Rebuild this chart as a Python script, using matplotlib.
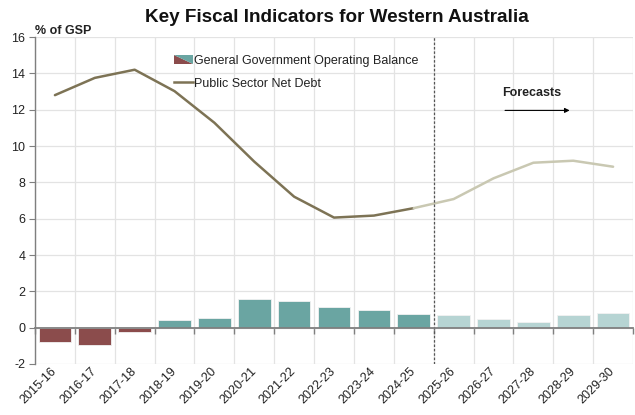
import matplotlib
matplotlib.use("Agg")
import matplotlib.pyplot as plt
from matplotlib.patches import Polygon
from matplotlib.lines import Line2D
from matplotlib.legend_handler import HandlerBase
import numpy as np

plt.rcParams['font.family'] = ['Liberation Sans', 'DejaVu Sans']
plt.rcParams['axes.unicode_minus'] = False

years = ["2015-16", "2016-17", "2017-18", "2018-19", "2019-20", "2020-21",
         "2021-22", "2022-23", "2023-24", "2024-25", "2025-26", "2026-27",
         "2027-28", "2028-29", "2029-30"]
operating_balance = [-0.81, -0.95, -0.22, 0.44, 0.51, 1.56, 1.48, 1.13,
                     0.99, 0.77, 0.71, 0.48, 0.33, 0.71, 0.81]
net_debt = [12.8, 13.75, 14.2, 13.02, 11.28, 9.14, 7.21, 6.06, 6.17, 6.58,
            7.08, 8.22, 9.08, 9.19, 8.86]
n_actual = 10  # 2015-16 to 2024-25 are actuals, the rest are forecasts

C_NEG = "#8b4c4c"
C_POS = "#6aa5a2"
C_FCST = "#b6d4d3"
C_DEBT = "#7d7355"
C_DEBT_FCST = "#c9c8b2"
C_GRID = "#e3e3e3"

x = np.arange(len(years))
bar_colors = []
for i, v in enumerate(operating_balance):
    if i >= n_actual:
        bar_colors.append(C_FCST)
    elif v < 0:
        bar_colors.append(C_NEG)
    else:
        bar_colors.append(C_POS)

fig = plt.figure(figsize=(6.35, 4.15), dpi=100)
ax = fig.add_axes([0.0551, 0.1229, 0.9418, 0.7879])

ax.set_xlim(-0.5, len(years) - 0.5)
ax.set_ylim(-2, 16)
ax.set_yticks(np.arange(-2, 17, 2))

# gridlines: horizontal at y ticks, vertical at category boundaries
ax.set_xticks(np.arange(-0.5, len(years), 1.0), minor=True)
ax.set_xticks([])
ax.grid(axis='y', color=C_GRID, lw=0.9)
ax.grid(axis='x', which='minor', color=C_GRID, lw=0.9)
ax.set_axisbelow(True)

bars = ax.bar(x, operating_balance, width=0.82, color=bar_colors,
              edgecolor="#f2f2f2", linewidth=0.6, zorder=2)

# net debt line: actuals dark, forecasts light
ax.plot(x[:n_actual], net_debt[:n_actual], color=C_DEBT, lw=1.8, zorder=3,
        solid_capstyle='round')
ax.plot(x[n_actual - 1:], net_debt[n_actual - 1:], color=C_DEBT_FCST, lw=1.8,
        zorder=3, solid_capstyle='round')

# x axis drawn along zero with ticks at category boundaries
ax.spines['bottom'].set_position(('data', 0))
ax.spines['bottom'].set_color('#7f7f7f')
ax.spines['bottom'].set_linewidth(1.3)
ax.spines['bottom'].set_zorder(4)
ax.tick_params(axis='x', which='minor', direction='out', length=4,
               color='#7f7f7f', width=1)
ax.spines['left'].set_color('#7f7f7f')
ax.spines['left'].set_linewidth(1.0)
ax.spines['top'].set_visible(False)
ax.spines['right'].set_visible(False)
ax.tick_params(axis='y', direction='out', length=4, color='#7f7f7f',
               labelsize=9, pad=3, labelcolor='#222222')

# category labels along the bottom edge
sec = ax.secondary_xaxis(0)
sec.set_xticks(x, years)
sec.tick_params(length=0, labelsize=9, pad=4, labelcolor='#222222')
for lab in sec.get_xticklabels():
    lab.set_rotation(45)
    lab.set_ha('right')
    lab.set_va('center')
    lab.set_rotation_mode('anchor')
sec.spines['bottom'].set_visible(False)

# forecast divider
ax.axvline(n_actual - 0.5, color='#555555', lw=0.9, ls=(0, (2, 1.5)), zorder=4)

ax.text(11.97, 12.9, "Forecasts", fontsize=9, fontweight='bold',
        ha='center', va='center', color='#222222')
ax.annotate("", xy=(12.98, 11.96), xytext=(11.22, 11.96),
            arrowprops=dict(arrowstyle='-|>', color='black', lw=0.8,
                            mutation_scale=7))

fig.text(0.5307, 0.959, "Key Fiscal Indicators for Western Australia",
         fontsize=13.6, fontweight='bold', ha='center', va='center',
         color='#111111')
fig.text(0.055, 0.926, "% of GSP", fontsize=9, fontweight='bold',
         ha='left', va='center', color='#222222')


class SplitPatchHandler(HandlerBase):
    def create_artists(self, legend, orig_handle, xdescent, ydescent,
                       width, height, fontsize, trans):
        x0, y0 = -xdescent, -ydescent
        lower = Polygon([[x0, y0 + height], [x0, y0], [x0 + width, y0]],
                        closed=True, facecolor=C_NEG, edgecolor='none',
                        transform=trans)
        upper = Polygon([[x0, y0 + height], [x0 + width, y0 + height],
                         [x0 + width, y0]], closed=True, facecolor=C_POS,
                        edgecolor='none', transform=trans)
        return [lower, upper]


class BalanceKey:
    pass


debt_key = Line2D([], [], color=C_DEBT, lw=1.8)
leg = ax.legend([BalanceKey(), debt_key],
                ["General Government Operating Balance",
                 "Public Sector Net Debt"],
                handler_map={BalanceKey: SplitPatchHandler()},
                loc='upper left', bbox_to_anchor=(0.2235, 0.96),
                frameon=False, fontsize=9, handlelength=1.55,
                handletextpad=0.05, labelspacing=0.85, borderaxespad=0)
for t in leg.get_texts():
    t.set_color('#222222')

fig.savefig("out.png", dpi=100)
